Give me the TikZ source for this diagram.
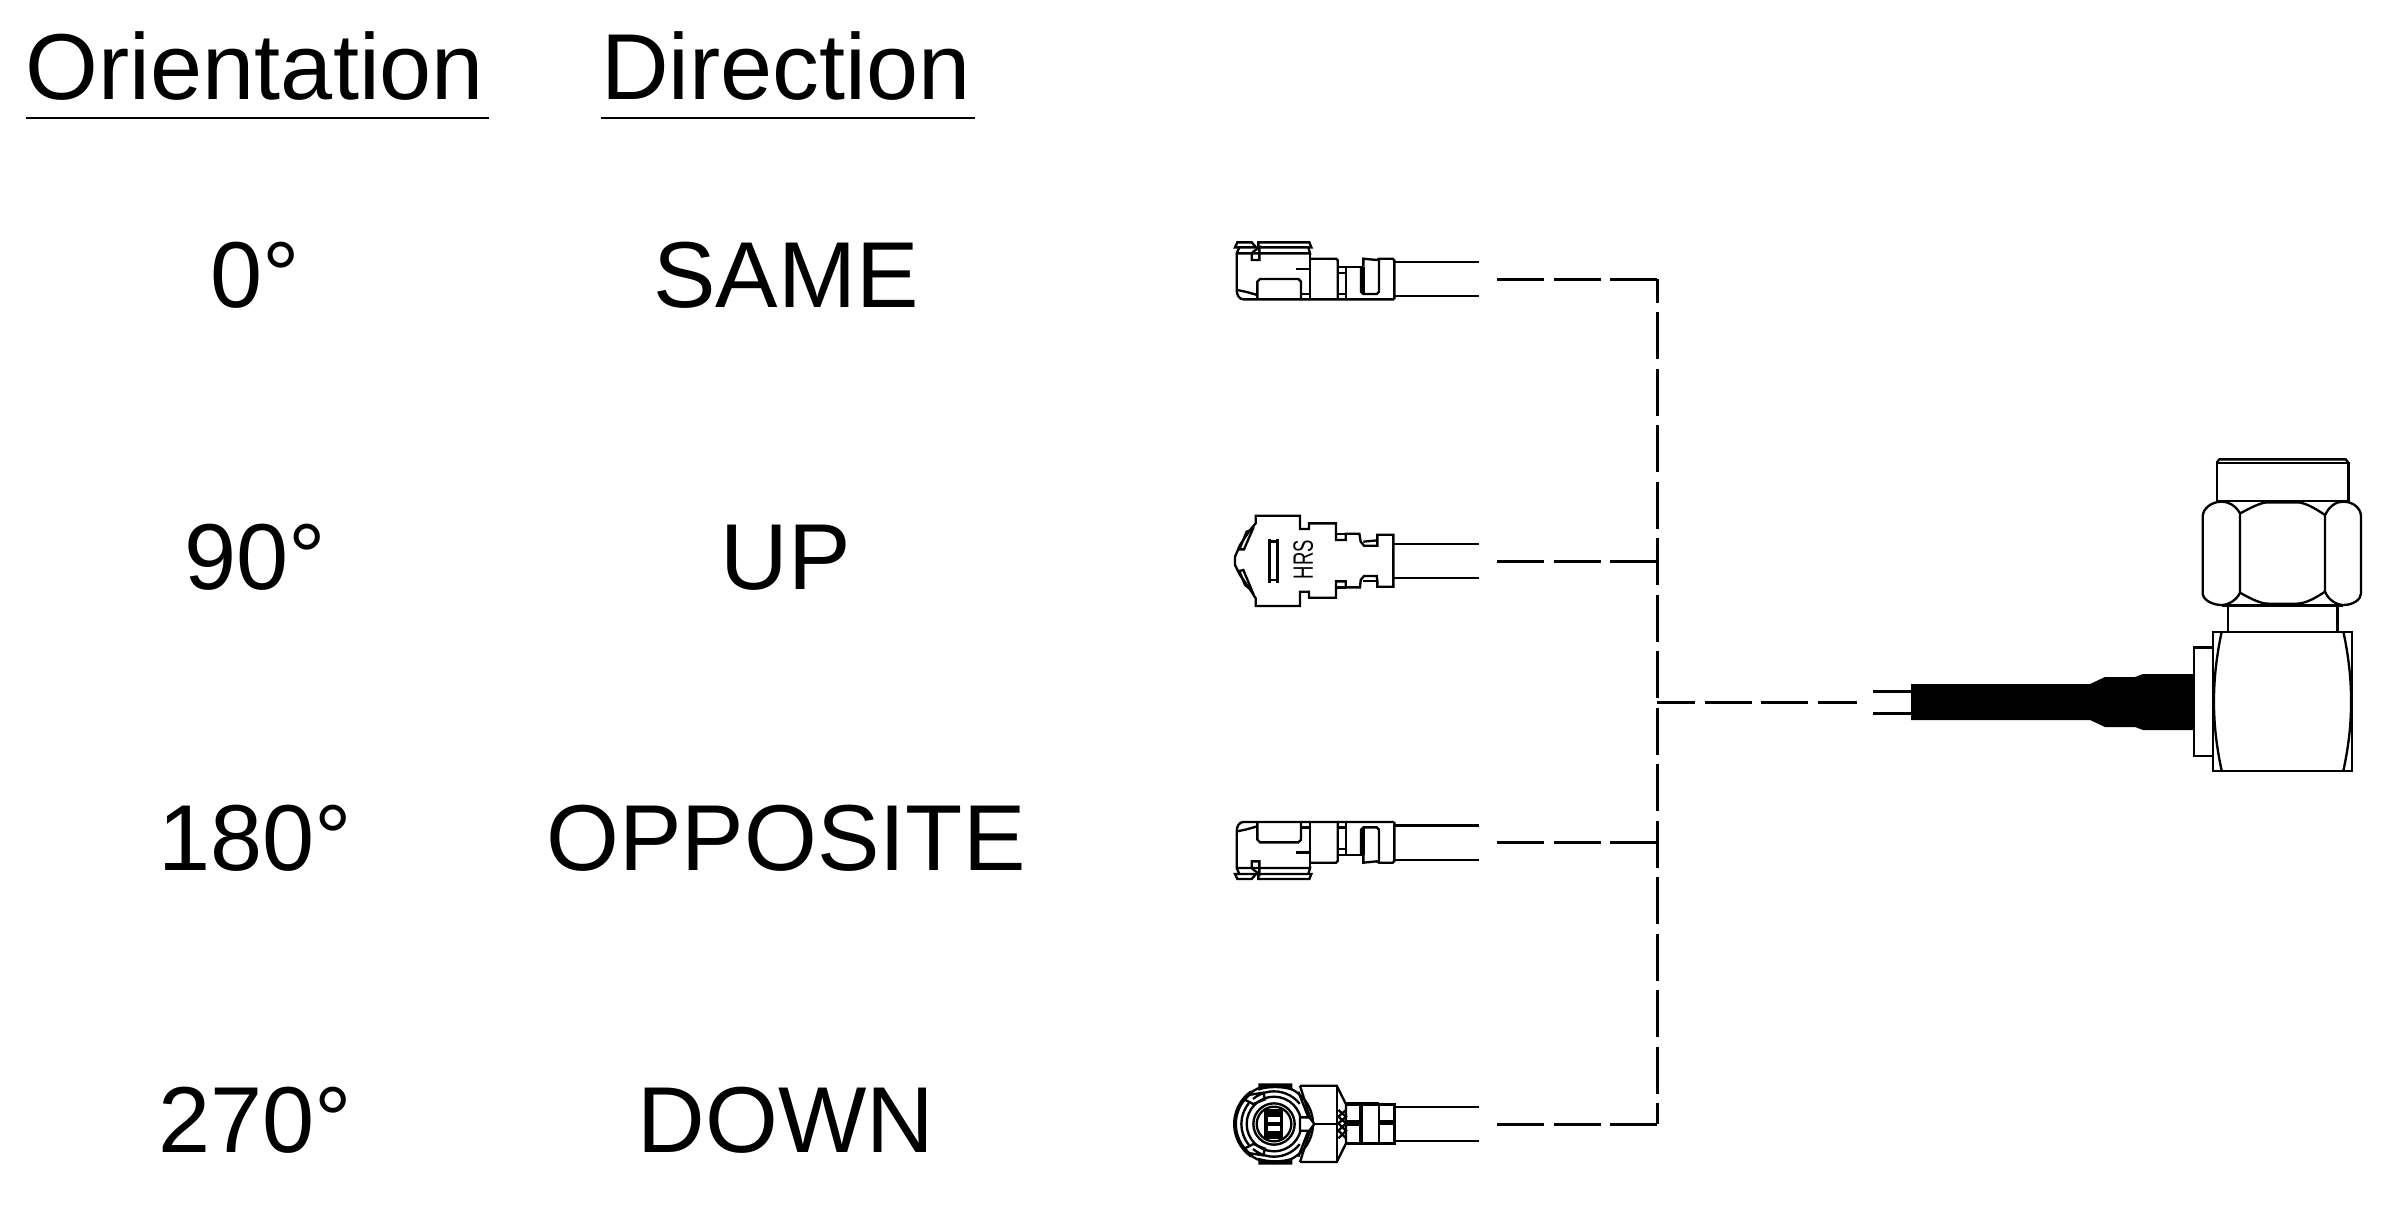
\documentclass[tikz,border=0pt]{standalone}
\usepackage{fontspec}
\setmainfont{Liberation Sans}
\tikzset{
  px/.style={x=0.3pt,y=-0.3pt},
  zoomdown/.style={x=0.1pt,y=-0.1pt},
  zoomup/.style={x=0.1pt,y=0.1pt},
  part/.style={line width=0.7pt,line join=miter,line cap=butt},
  thickpart/.style={line width=1.2pt},
  dashline/.style={line width=0.85pt,dash pattern=on 14.1pt off 2.85pt},
  rule/.style={line width=0.65pt},
  label/.style={anchor=base,inner sep=0pt,font=\fontsize{28.1pt}{30pt}\selectfont},
}
\newcommand{\plugstraight}{%
  \draw[part] (105,112)--(112,97)--(155,97)--(168,112)--cycle;
  \draw[part] (175,112)--(175,97)--(328,97)--(334,112)--cycle;
  \draw[part] (118,112)--(110,130)--(110,240) .. controls (110,255) and (118,268) .. (130,268)--(583,268);
  \draw[part] (325,112)--(330,130)--(110,130);
  \draw[part] (112,240)--(140,246)--(172,255);
  \draw[part] (172,268)--(172,215)--(180,207)--(295,207)--(303,215)--(303,268);
  \draw[part] (155,130)--(155,150)--(178,150)--(178,112)--(160,125)--(155,130);
  \draw[part] (288,177)--(330,177);
  \draw[part] (303,252)--(330,252);
  \draw[part] (330,130)--(330,268);
  \draw[part] (330,146)--(408,146)--(413,151)--(413,268);
  \draw[part] (413,170)--(490,170);
  \draw[part] (413,188)--(438,188);
  \draw[part] (413,252)--(438,252);
  \draw[part] (438,170)--(438,268);
  \draw[part] (490,170)--(490,146)--(530,150)--(537,146)--(578,146)--(583,151)--(583,268);
  \draw[part] (483,170)--(483,245)--(490,252)--(530,252)--(537,245)--(537,146);
  \draw[part] (490,170)--(490,252);
  \draw[part] (583,155)--(838,155);
  \draw[part] (583,258)--(838,258);
}
\begin{document}
\begin{tikzpicture}[px]
\useasboundingbox (0,0) rectangle (2396,1216);
% ---- header and labels
\node[label] (hOrient) at (255,100) {Orientation};
\node[label] (hDirect) at (786,100) {Direction};
\coordinate (uoL) at (25.5,118); \coordinate (uoR) at (488.5,118);
\coordinate (udL) at (601,118);  \coordinate (udR) at (974.5,118);
\draw[rule] (uoL)--(uoR);
\draw[rule] (udL)--(udR);
\node[label] (o0)   at (255,307) {0°};
\node[label] (o90)  at (255,589) {90°};
\node[label] (o180) at (255,870) {180°};
\node[label] (o270) at (255,1152) {270°};
\node[label] (dSame) at (786,307) {SAME};
\node[label] (dUp)   at (786,589) {UP};
\node[label] (dOpp)  at (786,870) {OPPOSITE};
\node[label] (dDown) at (786,1152) {DOWN};
% ---- dashed harness
\coordinate (e1) at (1497,279.3);  \coordinate (j1) at (1657.3,279.3);
\coordinate (e2) at (1497,561.7);  \coordinate (j2) at (1657.3,561.7);
\coordinate (e3) at (1497,842.3);  \coordinate (j3) at (1657.3,842.3);
\coordinate (e4) at (1497,1124.3); \coordinate (j4) at (1657.3,1124.3);
\coordinate (jm) at (1657.3,702.3); \coordinate (em) at (1857,702.3);
\draw[dashline] (e1)--(j1);
\draw[dashline] (e2)--(j2);
\draw[dashline] (e3)--(j3);
\draw[dashline] (e4)--(j4);
\draw[dashline,dash phase=7.05pt] (j1)--(j4);
\draw[dashline,dash phase=2.7pt] (jm)--(em);
% ---- plug 1 (0 deg)
\begin{scope}[shift={(1200,210)},zoomdown]
  \plugstraight
\end{scope}
% ---- plug 3 (180 deg)
\begin{scope}[shift={(1200,911.33)},zoomup]
  \plugstraight
\end{scope}
% ---- plug 2 (90 deg)
\begin{scope}[shift={(1200,490)},zoomdown]
  \draw[part] (167,77)--(300,77)--(300,117)--(327,117)--(327,100)--(408,100)--(408,150)--(437,150)--(437,131)--(478,131)--(482,155)--(492,167)--(532,167)--(532,134)--(580,134)--(580,290)--(532,290)--(532,272)--(530,258)--(492,258)--(482,270)--(480,292)--(437,292)--(437,274)--(408,274)--(408,323)--(327,323)--(327,305)--(300,305)--(300,348)--(167,348)--(167,325)--(150,298)--(120,255)--(105,225)--(105,200)--(120,165)--(150,120)--(167,100)--cycle;
  \draw[part] (408,131)--(437,131);
  \draw[part] (408,292)--(437,292);
  \draw[part] (490,155)--(532,151);
  \draw[part] (490,272)--(532,272);
  \draw[part] (118,178)--(132,178)--(158,118)--(140,125)--cycle;
  \draw[part] (118,243)--(130,240)--(156,302)--(135,285)--cycle;
  \draw[part] (208,148)--(208,278);
  \draw[part] (232,148)--(232,278);
  \draw[part] (208,154)--(232,154);
  \draw[part] (208,270)--(232,270);
  \node[inner sep=0pt,rotate=90,font=\fontsize{8.4pt}{9pt}\selectfont] (hrs) at (310,209) {\scalebox{0.66}[1]{HRS}};
  \draw[part] (583,161)--(838,161);
  \draw[part] (583,264)--(838,264);
\end{scope}
% ---- plug 4 (270 deg)
\begin{scope}[shift={(1200,1060)},zoomdown]
  \fill (175,70)--(277,70)--(277,92) .. controls (245,82) and (205,82) .. (175,92)--cycle;
  \fill (175,314)--(277,314)--(277,293) .. controls (245,303) and (205,303) .. (175,293)--cycle;
  \draw[thickpart] (222,192) ++(125:117) arc[start angle=125,end angle=235,radius=117];
  \draw[part] (222,192) ++(55:117) arc[start angle=55,end angle=125,radius=117];
  \draw[part] (222,192) ++(-55:117) arc[start angle=-55,end angle=-125,radius=117];
  \draw[part] (222,192) ++(55:117) arc[start angle=55,end angle=-55,radius=117];
  \draw[part] (222,192) ++(-38:98) arc[start angle=-38,end angle=-130,radius=98];
  \draw[part] (222,192) ++(38:98) arc[start angle=38,end angle=130,radius=98];
  \draw[part] (222,192) ++(140:98) arc[start angle=140,end angle=220,radius=98];
  \draw[part] (132,118)--(145,105)--(190,98)--(195,118)--(160,132)--cycle;
  \draw[part] (132,266)--(145,279)--(190,286)--(195,266)--(160,252)--cycle;
  \draw[part] (222,192) circle[radius=82];
  \draw[part] (222,192) circle[radius=62];
  \draw[part] (222,192) circle[radius=52];
  \fill (192,148) rectangle (250,236);
  \fill[white] (205,172) rectangle (240,212);
  \draw[thickpart] (205,192)--(240,192);
  \draw[part,fill=white] (300,172)--(328,172)--(343,192)--(328,212)--(300,212)--cycle;
  \draw[part] (300,77)--(410,77)--(438,133)--(438,250)--(410,306)--(300,306);
  \draw[part] (300,77)--(330,172);
  \draw[part] (300,306)--(330,212);
  \draw[part] (295,95)--(325,172);
  \draw[part] (295,290)--(325,212);
  \draw[part] (343,192)--(410,192);
  \draw[part] (410,77)--(410,306);
  \draw[part] (415,150)--(438,170)--(415,190)--(438,212)--(415,235);
  \draw[part] (438,150)--(415,170)--(438,190)--(415,212)--(438,235);
  \draw[part] (438,133)--(583,133)--(583,250)--(438,250);
  \draw[thickpart] (438,133)--(537,133);
  \draw[thickpart] (483,133)--(483,250);
  \draw[part] (537,133)--(537,250);
  \fill (438,180) rectangle (483,198);
  \fill (537,181) rectangle (583,196);
  \draw[part] (583,141)--(838,141);
  \draw[part] (583,243)--(838,243);
\end{scope}
% ---- right-angle connector: cable
\fill (1911,684)--(2090,684)--(2105,677)--(2135,677)--(2143,674)--(2194,674)--(2194,730)--(2143,730)--(2135,727)--(2105,727)--(2090,720)--(1911,720)--cycle;
\coordinate (w1) at (1873,691.7); \coordinate (w1b) at (1911,691.7);
\coordinate (w2) at (1873,713.3); \coordinate (w2b) at (1911,713.3);
\draw[dashline,dash pattern=] (w1)--(w1b);
\draw[dashline,dash pattern=] (w2)--(w2b);
% ---- right-angle connector: body
\begin{scope}[shift={(2140,440)},zoomdown]
  \draw[part] (230,68)--(625,68)--(625,183)--(230,183)--cycle;
  \draw[part] (230,68)--(238,58)--(617,58)--(625,68);
  \draw[part] (300,220) .. controls (285,195) and (265,185) .. (245,185) .. controls (215,185) and (188,205) .. (188,230)--(188,460) .. controls (188,478) and (215,495) .. (245,495) .. controls (265,495) and (290,480) .. (300,458)--cycle;
  \draw[part] (555,225) .. controls (570,195) and (590,185) .. (610,185) .. controls (640,185) and (663,205) .. (663,230)--(663,460) .. controls (663,478) and (640,495) .. (610,495) .. controls (590,495) and (565,480) .. (555,455)--cycle;
  \draw[part] (300,220) .. controls (330,205) and (360,187) .. (385,187)--(470,187) .. controls (495,187) and (525,205) .. (555,225);
  \draw[part] (300,458) .. controls (330,475) and (360,491) .. (385,491)--(470,491) .. controls (495,491) and (525,475) .. (555,455);
  \draw[part] (245,496)--(610,496);
  \draw[part] (263,496)--(263,575);
  \draw[part] (592,496)--(592,575);
  \draw[part] (218,575)--(636,575)--(636,992)--(218,992)--cycle;
  \draw[part] (245,575) .. controls (214,720) and (214,850) .. (245,992);
  \draw[part] (610,575) .. controls (641,720) and (641,850) .. (610,992);
  \draw[part] (218,622)--(161,622)--(161,948)--(218,948);
\end{scope}
\end{tikzpicture}
\end{document}
